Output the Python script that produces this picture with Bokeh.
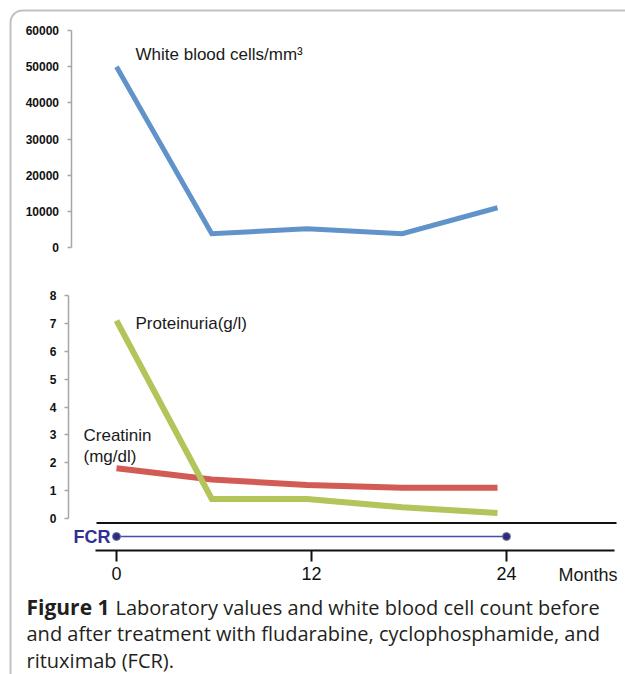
from bokeh.plotting import figure
from bokeh.models import Range1d, LinearAxis, FixedTicker, BoxAnnotation, BasicTickFormatter
from bokeh.core.properties import value
from bokeh.embed import file_html
from bokeh.resources import INLINE

# ---------------- data ----------------
months = [0, 6, 12, 18, 24]
wbc = [50000, 3800, 5200, 3800, 11000]
proteinuria = [7.1, 0.7, 0.7, 0.4, 0.2]
creatinin = [1.8, 1.4, 1.2, 1.1, 1.1]
fcr_months = [0, 24]
wbc_ticks = [0, 10000, 20000, 30000, 40000, 50000, 60000]
lab_ticks = [0, 1, 2, 3, 4, 5, 6, 7, 8]
month_ticks = [0, 12, 24]

caption_bold = "Figure 1"
caption_lines = ["Laboratory values and white blood cell count before",
                 "and after treatment with fludarabine, cyclophosphamide, and",
                 "rituximab (FCR)."]

# ---------------- layout helpers (reference pixels -> data) ----------------
W, H, OFF = 625, 674, 0


def scale(pa, va, pb, vb):
    k = (vb - va) / (pb - pa)
    return lambda px: va + (px - pa) * k


X = scale(116, 0, 497, 24)        # data months
XM = scale(116, 0, 506, 24)       # time axis months
YL = scale(518, 0, 295, 8)        # lower panel values
YW = scale(247, 0, 30, 60000)     # white blood cells

BLUE = "#6193cb"
RED = "#d25b55"
GREEN = "#b3c45a"
NAVY = "#2e3192"
FONT = value("Liberation Sans")

p = figure(width=W, height=H,
           x_range=Range1d(X(OFF), X(OFF + W)),
           y_range=Range1d(YL(OFF + H), YL(OFF)),
           x_axis_type=None, y_axis_type=None,
           toolbar_location=None, output_backend="svg",
           min_border=0, min_border_left=0, min_border_right=0,
           min_border_top=0, min_border_bottom=0)
p.outline_line_color = None
p.extra_x_ranges = {"months": Range1d(XM(OFF), XM(OFF + W))}
p.extra_y_ranges = {"wbc": Range1d(YW(OFF + H), YW(OFF))}

# frame of the figure (top + left border with rounded corner)
p.add_layout(BoxAnnotation(left=X(10), right=X(2000), top=YL(10), bottom=YL(2000),
                           fill_alpha=0, line_color="#333333", line_width=2,
                           border_radius=12))


def style_y_axis(ax):
    ax.axis_line_color = "#a6a6a6"
    ax.axis_line_width = 1.5
    ax.major_tick_line_color = "#a6a6a6"
    ax.major_tick_line_width = 1.5
    ax.major_tick_out = 4
    ax.major_tick_in = 0
    ax.minor_tick_line_color = None
    ax.major_label_text_font = "Liberation Sans"
    ax.major_label_text_font_style = "bold"
    ax.major_label_text_font_size = "12px"
    ax.major_label_text_color = "#111111"
    ax.major_label_standoff = 8


ax_w = LinearAxis(y_range_name="wbc", fixed_location=X(70.5), bounds=(0, 60000),
                  ticker=FixedTicker(ticks=wbc_ticks),
                  formatter=BasicTickFormatter(use_scientific=False))
style_y_axis(ax_w)
p.add_layout(ax_w, "left")

ax_l = LinearAxis(fixed_location=X(68), bounds=(0, 8), ticker=FixedTicker(ticks=lab_ticks))
style_y_axis(ax_l)
p.add_layout(ax_l, "left")

ax_m = LinearAxis(x_range_name="months", fixed_location=YL(549.5),
                  bounds=(XM(95), XM(614)), ticker=FixedTicker(ticks=month_ticks))
ax_m.axis_line_color = "#111111"
ax_m.axis_line_width = 2
ax_m.major_tick_line_color = "#111111"
ax_m.major_tick_line_width = 2
ax_m.major_tick_out = 11
ax_m.major_tick_in = 0
ax_m.minor_tick_line_color = None
ax_m.major_label_text_font = "Liberation Sans"
ax_m.major_label_text_font_size = "18px"
ax_m.major_label_text_color = "#111111"
ax_m.major_label_standoff = 6
p.add_layout(ax_m, "below")

# separator line above FCR row
p.segment(x0=[XM(96)], x1=[XM(616)], y0=[YL(522.5)], y1=[YL(522.5)],
          x_range_name="months", line_color="#111111", line_width=2)

# data lines
p.line(months, wbc, y_range_name="wbc", line_color=BLUE, line_width=5, line_join="miter")
p.line(months, creatinin, line_color=RED, line_width=6, line_join="miter")
p.line(months, proteinuria, line_color=GREEN, line_width=6, line_join="miter")

# FCR row
fcr_y = [YL(536)] * len(fcr_months)
p.line(fcr_months, fcr_y, x_range_name="months", line_color="#4a4ea3", line_width=1.5)
p.scatter(fcr_months, fcr_y, x_range_name="months", size=8, fill_color="#2b2e80",
          line_color="#7a7a9a", line_width=1)
p.text(x=[X(110)], y=[YL(536)], text=["FCR"], text_font=FONT, text_font_style="bold",
       text_font_size="18px", text_color=NAVY, text_align="right", text_baseline="middle")

# annotations
p.text(x=[X(135)], y=[YL(53.5)], text=["White blood cells/mm³"], text_font=FONT,
       text_font_size="17px", text_color="#1a1a1a", text_baseline="middle")
p.text(x=[X(135)], y=[YL(323)], text=["Proteinuria(g/l)"], text_font=FONT,
       text_font_size="17px", text_color="#1a1a1a", text_baseline="middle")
p.text(x=[X(83), X(83)], y=[YL(434.5), YL(455.5)], text=["Creatinin", "(mg/dl)"], text_font=FONT,
       text_font_size="17px", text_color="#1a1a1a", text_baseline="middle")
p.text(x=[X(558)], y=[YL(574)], text=["Months"], text_font=FONT,
       text_font_size="18px", text_color="#1a1a1a", text_baseline="middle")

# caption
CAP = value("Open Sans")
p.text(x=[X(26)], y=[YL(606.5)], text=[caption_bold], text_font=CAP, text_font_style="bold",
       text_font_size="21px", text_color="#231f20", text_baseline="middle")
p.text(x=[X(115), X(26), X(26)], y=[YL(606.5), YL(633), YL(659.5)], text=caption_lines,
       text_font=CAP, text_font_size="20px", text_color="#231f20", text_baseline="middle")

open("out.html", "w").write(file_html(p, INLINE))
